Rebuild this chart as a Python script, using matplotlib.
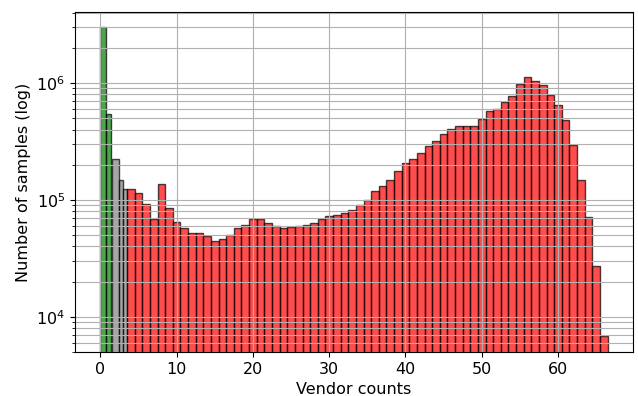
import numpy as np
import matplotlib
matplotlib.use("Agg")
import matplotlib.pyplot as plt

# Samples per number of detecting vendors
green_counts = [3.0e6, 5.4e5]
grey_counts = [2.26e5, 1.47e5, 1.25e5]
red_vendor_counts = list(range(4, 67))
red_counts = [
    1.25e5, 1.135e5, 9.3e4, 6.8e4, 1.38e5, 8.6e4, 6.44e4, 5.8e4, 5.26e4, 5.26e4,
    4.9e4, 4.47e4, 4.6e4, 4.99e4, 5.7e4, 6.08e4, 6.8e4, 6.8e4, 6.3e4, 5.96e4,
    5.7e4, 5.85e4, 5.96e4, 6.1e4, 6.3e4, 6.9e4, 7.26e4, 7.45e4, 7.66e4, 8.17e4,
    9.0e4, 9.9e4, 1.19e5, 1.31e5, 1.47e5, 1.76e5, 2.05e5, 2.26e5, 2.54e5, 2.9e5,
    3.18e5, 3.69e5, 4.07e5, 4.27e5, 4.27e5, 4.27e5, 4.9e5, 5.77e5, 6.0e5, 6.84e5,
    7.74e5, 9.8e5, 1.12e6, 1.04e6, 9.6e5, 7.85e5, 6.49e5, 4.87e5, 2.94e5, 1.47e5,
    7.1e4, 2.71e4, 6.8e3,
]

green_bins = np.array([0.0, 0.8, 1.4])
grey_bins = np.array([1.5, 2.4, 2.95, 3.5])
red_bins = np.arange(red_vendor_counts[0] - 0.5, red_vendor_counts[-1] + 1.0)

fig = plt.figure(figsize=(6.38, 3.96), dpi=100)
ax = fig.add_axes([75 / 638, 1 - 352 / 396, (633 - 75) / 638, (352 - 12) / 396])

style = dict(edgecolor="black", alpha=0.7, linewidth=1.0, log=True)
ax.hist((green_bins[:-1] + green_bins[1:]) / 2, bins=green_bins,
        weights=green_counts, color="green", **style)
ax.hist((grey_bins[:-1] + grey_bins[1:]) / 2, bins=grey_bins,
        weights=grey_counts, color="grey", **style)
ax.hist(red_vendor_counts, bins=red_bins, weights=red_counts,
        color="red", **style)

ax.set_yscale("log")
ax.set_ylim(5.0e3, 4.05e6)
ax.grid(True, which="major", axis="x", color="#b0b0b0", linewidth=0.8)
ax.grid(True, which="both", axis="y", color="#b0b0b0", linewidth=0.8)
ax.set_xticks(range(0, 61, 10))
ax.tick_params(labelsize=11.5)
ax.set_xlabel("Vendor counts", fontsize=11.5)
ax.set_ylabel("Number of samples (log)", fontsize=11.5)

fig.savefig("out.png", dpi=100)
